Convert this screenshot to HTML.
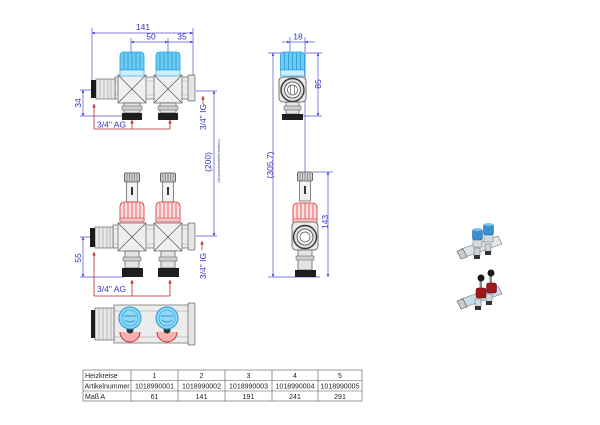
<!DOCTYPE html>
<html><head><meta charset="utf-8"><style>
html,body{margin:0;padding:0;background:#fff;}
svg{display:block;}
text{font-family:"Liberation Sans",sans-serif;}
</style></head><body>
<svg width="600" height="425" viewBox="0 0 600 425" xmlns="http://www.w3.org/2000/svg">
<defs>
<marker id="a" viewBox="0 0 6 6" refX="6" refY="3" markerWidth="4" markerHeight="4" orient="auto-start-reverse"><path d="M0,0 L6,3 L0,6 z" fill="#3a3ad0"/></marker>
<marker id="r" viewBox="0 0 6 6" refX="6" refY="3" markerWidth="4.5" markerHeight="4.5" orient="auto-start-reverse"><path d="M0,0 L6,3 L0,6 z" fill="#c02828"/></marker>
<g id="kb">
<path d="M-12,18 L-12,4 Q-12,0 -8,0 L8,0 Q12,0 12,4 L12,18 Z" fill="#6ccdf2" stroke="#1f9bd8" stroke-width="0.8"/>
<path d="M-8,1 V18 M-4,1 V18 M0,1 V18 M4,1 V18 M8,1 V18" stroke="#1f8fcf" stroke-width="0.7"/>
<rect x="-12" y="18" width="24" height="6" fill="#cfeefb" stroke="#1f9bd8" stroke-width="0.6"/>
</g>
<g id="kr">
<path d="M-12,19 L-12,5 Q-12,0 -7,0 L7,0 Q12,0 12,5 L12,19 Z" fill="#fbe0e0" stroke="#d82a2a" stroke-width="0.8"/>
<path d="M-8,1 V19 M-4,0.5 V19 M0,0.5 V19 M4,0.5 V19 M8,1 V19" stroke="#e03030" stroke-width="0.7"/>
<rect x="-12" y="16" width="24" height="4" fill="#f6c4c4" stroke="#d82a2a" stroke-width="0.5"/>
</g>
<g id="hx">
<rect x="-14" y="0" width="28" height="28" fill="#efefef" stroke="#666" stroke-width="0.7"/>
<path d="M-14,0 L14,28 M14,0 L-14,28" stroke="#555" stroke-width="0.7"/>
</g>
<g id="stem">
<rect x="-7.5" y="0" width="15" height="9" rx="1.5" fill="#cfcfcf" stroke="#444" stroke-width="0.8"/>
<path d="M-5,1 V8 M-2.5,1 V8 M0,1 V8 M2.5,1 V8 M5,1 V8" stroke="#555" stroke-width="0.5"/>
<rect x="-5.5" y="9" width="11" height="20" fill="#f2f2f2" stroke="#555" stroke-width="0.7"/>
<rect x="-1" y="14" width="2" height="8" fill="#333"/>
</g>
</defs>

<!-- ================= TOP FRONT VIEW ================= -->
<g stroke="#5050d8" stroke-width="0.7" fill="none">
<path d="M92,28 V80 M193,28 V76 M131,38 V52 M168,38 V52"/>
<path d="M92,33 H193" marker-start="url(#a)" marker-end="url(#a)"/>
<path d="M131,42 H168" marker-start="url(#a)" marker-end="url(#a)"/>
<path d="M168,42 H193" marker-end="url(#a)"/>
<path d="M80,90 H93 M80,116 H123"/>
<path d="M83,90 V116" marker-start="url(#a)" marker-end="url(#a)"/>
<path d="M196,91 H217 M196,236 H217"/>
<path d="M214,91 V236" marker-start="url(#a)" marker-end="url(#a)"/>
</g>
<g fill="#3333c0" font-size="8.5">
<text x="143" y="30" text-anchor="middle">141</text>
<text x="151" y="39.5" text-anchor="middle">50</text>
<text x="182" y="39.5" text-anchor="middle">35</text>
<text transform="translate(81,103) rotate(-90)" text-anchor="middle">34</text>
<text x="97" y="127.5">3/4" AG</text>
<text transform="translate(206,117) rotate(-90)" text-anchor="middle">3/4" IG</text>
<text transform="translate(211,162) rotate(-90)" text-anchor="middle">(200)</text>
</g>
<text transform="translate(220,161) rotate(-90)" text-anchor="middle" font-size="4" fill="#555">(Abstandverteilerbalken)</text>
<g stroke="#c02828" stroke-width="0.8" fill="none">
<path d="M94,129 V104" marker-end="url(#r)"/>
<path d="M94,129 H170"/>
<path d="M132,129 V120" marker-end="url(#r)"/>
<path d="M170,129 V120" marker-end="url(#r)"/>
<path d="M203,104 V96" marker-end="url(#r)"/>
</g>
<!-- body -->
<rect x="115" y="77" width="76" height="22" fill="#ececec" stroke="#666" stroke-width="0.7"/>
<path d="M115,81 H191 M115,95 H191" stroke="#aaa" stroke-width="0.5"/>
<rect x="188" y="75" width="7" height="26" rx="1" fill="#e4e4e4" stroke="#666" stroke-width="0.7"/>
<rect x="96" y="79" width="19" height="20" fill="#e8e8e8" stroke="#666" stroke-width="0.7"/>
<path d="M100,79 V99 M104,79 V99 M108,79 V99 M111,79 V99" stroke="#888" stroke-width="0.5"/>
<rect x="91" y="80" width="5" height="18" fill="#1a1a1a"/>
<use href="#hx" x="132" y="75"/>
<use href="#hx" x="168" y="75"/>
<use href="#kb" x="132" y="52"/>
<use href="#kb" x="168" y="52"/>
<g>
<rect x="124" y="103" width="16" height="10" fill="#e3e3e3" stroke="#555" stroke-width="0.7"/>
<rect x="122" y="106" width="20" height="4" fill="#cfcfcf" stroke="#555" stroke-width="0.5"/>
<rect x="122" y="113" width="20" height="7" fill="#1e1e1e"/>
<rect x="160" y="103" width="16" height="10" fill="#e3e3e3" stroke="#555" stroke-width="0.7"/>
<rect x="158" y="106" width="20" height="4" fill="#cfcfcf" stroke="#555" stroke-width="0.5"/>
<rect x="158" y="113" width="20" height="7" fill="#1e1e1e"/>
</g>

<!-- ================= MIDDLE FRONT VIEW ================= -->
<g stroke="#5050d8" stroke-width="0.7" fill="none">
<path d="M80,237 H93 M80,277 H124"/>
<path d="M83,237 V277" marker-start="url(#a)" marker-end="url(#a)"/>
</g>
<g fill="#3333c0" font-size="8.5">
<text transform="translate(81,258) rotate(-90)" text-anchor="middle">55</text>
<text x="97" y="292">3/4" AG</text>
<text transform="translate(206,266) rotate(-90)" text-anchor="middle">3/4" IG</text>
</g>
<g stroke="#c02828" stroke-width="0.8" fill="none">
<path d="M94,296 V252" marker-end="url(#r)"/>
<path d="M94,296 H170"/>
<path d="M132,296 V280" marker-end="url(#r)"/>
<path d="M170,296 V280" marker-end="url(#r)"/>
<path d="M202,250 V241" marker-end="url(#r)"/>
</g>
<rect x="113" y="225" width="78" height="23" fill="#ececec" stroke="#666" stroke-width="0.7"/>
<path d="M113,229 H191 M113,244 H191" stroke="#aaa" stroke-width="0.5"/>
<rect x="188" y="223" width="7" height="27" rx="1" fill="#e4e4e4" stroke="#666" stroke-width="0.7"/>
<rect x="95" y="227" width="18" height="21" fill="#e8e8e8" stroke="#666" stroke-width="0.7"/>
<path d="M99,227 V248 M103,227 V248 M107,227 V248 M110,227 V248" stroke="#888" stroke-width="0.5"/>
<rect x="90" y="228" width="5" height="19" fill="#1a1a1a"/>
<use href="#hx" x="132" y="223"/>
<use href="#hx" x="168" y="223"/>
<use href="#stem" x="132" y="173"/>
<use href="#stem" x="168" y="173"/>
<use href="#kr" x="132" y="202"/>
<use href="#kr" x="168" y="202"/>
<g>
<rect x="125" y="251" width="14" height="17" fill="#e3e3e3" stroke="#555" stroke-width="0.7"/>
<rect x="123" y="257" width="18" height="4" fill="#cfcfcf" stroke="#555" stroke-width="0.5"/>
<rect x="122" y="268" width="21" height="9" fill="#1e1e1e"/>
<rect x="161" y="251" width="14" height="17" fill="#e3e3e3" stroke="#555" stroke-width="0.7"/>
<rect x="159" y="257" width="18" height="4" fill="#cfcfcf" stroke="#555" stroke-width="0.5"/>
<rect x="158" y="268" width="21" height="9" fill="#1e1e1e"/>
</g>

<!-- ================= SIDE VIEWS ================= -->
<g stroke="#5050d8" stroke-width="0.7" fill="none">
<path d="M290,37 V53 M305,37 V172"/>
<path d="M282,42 H290" marker-end="url(#a)"/>
<path d="M315,42 H305" marker-end="url(#a)"/>
<path d="M290,42 H305"/>
<path d="M268,53 H283 M268,277 H320"/>
<path d="M273,53 V277" marker-start="url(#a)" marker-end="url(#a)"/>
<path d="M305,53 H322 M302,116 H322"/>
<path d="M318,53 V116" marker-start="url(#a)" marker-end="url(#a)"/>
<path d="M313,172 H333"/>
<path d="M328,172 V277" marker-start="url(#a)" marker-end="url(#a)"/>
</g>
<g fill="#3333c0" font-size="8.5">
<text x="298" y="39.5" text-anchor="middle">18</text>
<text transform="translate(321,84) rotate(-90)" text-anchor="middle">85</text>
<text transform="translate(273,165) rotate(-90)" text-anchor="middle">(305.7)</text>
<text transform="translate(328,222) rotate(-90)" text-anchor="middle">143</text>
</g>
<!-- side top -->
<use href="#kb" x="292.5" y="52"/>
<rect x="279" y="77" width="27" height="25" rx="4" fill="#ececec" stroke="#555" stroke-width="0.8"/>
<circle cx="292.5" cy="90" r="11.5" fill="#e0e0e0" stroke="#333" stroke-width="1.4"/>
<circle cx="292.5" cy="90" r="8" fill="#f4f4f4" stroke="#444" stroke-width="0.8"/>
<circle cx="292.5" cy="90" r="5" fill="#fff" stroke="#555" stroke-width="0.7"/>
<path d="M290.5,85 V95 M294.5,85 V95" stroke="#555" stroke-width="0.6"/>
<rect x="286" y="102" width="13" height="12" fill="#e3e3e3" stroke="#555" stroke-width="0.7"/>
<rect x="284" y="106" width="17" height="4" fill="#cfcfcf" stroke="#555" stroke-width="0.5"/>
<rect x="282" y="114" width="21" height="6" fill="#1e1e1e"/>
<!-- side middle -->
<use href="#stem" x="305" y="172"/>
<use href="#kr" x="305" y="203"/>
<rect x="292" y="222" width="26" height="28" rx="4" fill="#ececec" stroke="#555" stroke-width="0.8"/>
<circle cx="305" cy="237" r="11.5" fill="#e0e0e0" stroke="#333" stroke-width="1.4"/>
<circle cx="305" cy="237" r="8" fill="#f4f4f4" stroke="#444" stroke-width="0.8"/>
<circle cx="305" cy="237" r="5" fill="#fff" stroke="#555" stroke-width="0.7"/>
<rect x="298" y="250" width="14" height="20" fill="#e3e3e3" stroke="#555" stroke-width="0.7"/>
<rect x="296" y="256" width="18" height="4" fill="#cfcfcf" stroke="#555" stroke-width="0.5"/>
<rect x="295" y="270" width="21" height="7" fill="#1e1e1e"/>

<!-- ================= BOTTOM VIEW ================= -->
<rect x="114" y="305" width="77" height="38" fill="#ececec" stroke="#666" stroke-width="0.7"/>
<path d="M114,311 H191 M114,337 H191" stroke="#999" stroke-width="0.5"/>
<rect x="188" y="303" width="7" height="42" rx="1" fill="#e4e4e4" stroke="#666" stroke-width="0.7"/>
<rect x="95" y="308" width="19" height="32" fill="#e8e8e8" stroke="#666" stroke-width="0.7"/>
<path d="M99,308 V340 M103,308 V340 M107,308 V340 M111,308 V340" stroke="#888" stroke-width="0.5"/>
<rect x="91" y="310" width="4" height="28" fill="#1a1a1a"/>
<g>
<path d="M120,332 A10,10 0 0 0 140,332" fill="#f6b0b0" stroke="#d82a2a" stroke-width="1"/>
<path d="M157,332 A10,10 0 0 0 177,332" fill="#f6b0b0" stroke="#d82a2a" stroke-width="1"/>
<circle cx="130" cy="330" r="3.5" fill="#333"/>
<circle cx="167" cy="330" r="3.5" fill="#333"/>
<circle cx="130" cy="318" r="11" fill="#8fd8f5" stroke="#1f9bd8" stroke-width="1"/>
<circle cx="130" cy="318" r="8" fill="none" stroke="#1f9bd8" stroke-width="0.6"/>
<path d="M124,316 H136 M125,320 Q130,324 135,320" stroke="#1f7fbf" stroke-width="0.8" fill="none"/>
<circle cx="167" cy="318" r="11" fill="#8fd8f5" stroke="#1f9bd8" stroke-width="1"/>
<circle cx="167" cy="318" r="8" fill="none" stroke="#1f9bd8" stroke-width="0.6"/>
<path d="M161,316 H173 M162,320 Q167,324 172,320" stroke="#1f7fbf" stroke-width="0.8" fill="none"/>
</g>

<!-- ================= TABLE ================= -->
<g stroke="#555" stroke-width="0.6" fill="none">
<rect x="83" y="370" width="279" height="31"/>
<path d="M83,380.5 H362 M83,391 H362 M131,370 V401 M178,370 V401 M225,370 V401 M272,370 V401 M318,370 V401"/>
</g>
<g font-size="7" fill="#222">
<text x="85" y="378">Heizkreise</text>
<text x="84.5" y="388.5">Artikelnummer</text>
<text x="85" y="399">Maß A</text>
<g text-anchor="middle">
<text x="154.5" y="378">1</text><text x="201.5" y="378">2</text><text x="248.5" y="378">3</text><text x="295" y="378">4</text><text x="340" y="378">5</text>
<text x="154.5" y="388.5">1018990001</text><text x="201.5" y="388.5">1018990002</text><text x="248.5" y="388.5">1018990003</text><text x="295" y="388.5">1018990004</text><text x="340" y="388.5">1018990005</text>
<text x="154.5" y="399">61</text><text x="201.5" y="399">141</text><text x="248.5" y="399">191</text><text x="295" y="399">241</text><text x="340" y="399">291</text>
</g>
</g>

<!-- ================= PRODUCT IMAGES ================= -->
<g>
<polygon points="461,249 498,236 502,244 465,257" fill="#dfe4e8" stroke="#777" stroke-width="0.6"/>
<polygon points="457,251 463,249 467,257 461,259" fill="#c8ccd0" stroke="#555" stroke-width="0.6"/>
<rect x="474" y="248" width="6" height="8" fill="#cfd3d6" stroke="#666" stroke-width="0.5"/>
<rect x="474" y="255" width="6" height="4" fill="#333"/>
<rect x="485" y="244" width="6" height="8" fill="#cfd3d6" stroke="#666" stroke-width="0.5"/>
<rect x="485" y="251" width="6" height="4" fill="#333"/>
<rect x="473" y="238" width="9" height="9" fill="#d6dadd" stroke="#777" stroke-width="0.5"/>
<rect x="484" y="233" width="9" height="9" fill="#d6dadd" stroke="#777" stroke-width="0.5"/>
<rect x="472.5" y="229" width="10" height="11" rx="2" fill="#3b8fcc" stroke="#1d5f92" stroke-width="0.5"/>
<rect x="483.5" y="224" width="10" height="11" rx="2" fill="#3b8fcc" stroke="#1d5f92" stroke-width="0.5"/>
<ellipse cx="477.5" cy="229.5" rx="4.5" ry="1.5" fill="#7cc0ea"/>
<ellipse cx="488.5" cy="224.5" rx="4.5" ry="1.5" fill="#7cc0ea"/>
</g>
<g>
<polygon points="461,299 498,286 502,294 465,307" fill="#c9dcea" stroke="#777" stroke-width="0.6"/>
<polygon points="457,301 463,299 467,307 461,309" fill="#c8ccd0" stroke="#555" stroke-width="0.6"/>
<rect x="475" y="299" width="6" height="8" fill="#cfd9e2" stroke="#666" stroke-width="0.5"/>
<rect x="475" y="306" width="6" height="4" fill="#333"/>
<rect x="486" y="294" width="6" height="8" fill="#cfd9e2" stroke="#666" stroke-width="0.5"/>
<rect x="486" y="301" width="6" height="4" fill="#333"/>
<rect x="479.5" y="279" width="2.5" height="10" fill="#888"/>
<rect x="489.5" y="274" width="2.5" height="10" fill="#888"/>
<circle cx="481" cy="278" r="3.5" fill="#1a1a1a"/>
<circle cx="491" cy="273" r="3.5" fill="#1a1a1a"/>
<rect x="476" y="288" width="10" height="10" rx="2" fill="#9e1a1a" stroke="#5a0c0c" stroke-width="0.5"/>
<rect x="486.5" y="283" width="10" height="10" rx="2" fill="#9e1a1a" stroke="#5a0c0c" stroke-width="0.5"/>
</g>
</svg>
</body></html>
